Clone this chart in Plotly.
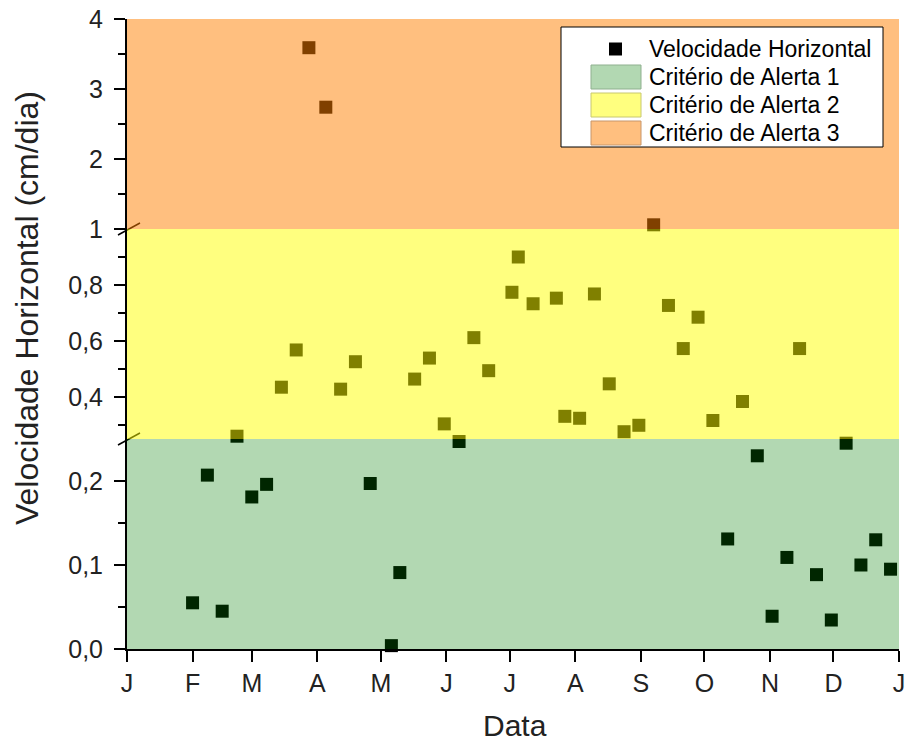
import plotly.graph_objects as go

# ---------------- data ----------------
dates = [
    "2013-02-01", "2013-02-08", "2013-02-15", "2013-02-22", "2013-03-01", "2013-03-08",
    "2013-03-15", "2013-03-22", "2013-03-28", "2013-04-05", "2013-04-12", "2013-04-19",
    "2013-04-26", "2013-05-06", "2013-05-10", "2013-05-17", "2013-05-24", "2013-05-31",
    "2013-06-07", "2013-06-14", "2013-06-21", "2013-07-02", "2013-07-05", "2013-07-12",
    "2013-07-23", "2013-07-27", "2013-08-03", "2013-08-10", "2013-08-17", "2013-08-24",
    "2013-08-31", "2013-09-07", "2013-09-14", "2013-09-21", "2013-09-28", "2013-10-05",
    "2013-10-12", "2013-10-19", "2013-10-26", "2013-11-02", "2013-11-09", "2013-11-15",
    "2013-11-23", "2013-11-30", "2013-12-07", "2013-12-14", "2013-12-21", "2013-12-28",
]
velocity = [
    0.055, 0.207, 0.045, 0.26, 0.181, 0.196,
    0.435, 0.568, 3.59, 2.74, 0.428, 0.526,
    0.197, 0.004, 0.091, 0.464, 0.539, 0.304,
    0.247, 0.612, 0.494, 0.774, 0.90, 0.733,
    0.753, 0.331, 0.324, 0.768, 0.447, 0.276,
    0.299, 1.06, 0.727, 0.573, 0.685, 0.316,
    0.131, 0.384, 0.230, 0.039, 0.109, 0.573,
    0.0885, 0.0345, 0.245, 0.100, 0.130, 0.095,
]

month_ticks = ["2013-01-01", "2013-02-01", "2013-03-01", "2013-04-01", "2013-05-01",
               "2013-06-01", "2013-07-01", "2013-08-01", "2013-09-01", "2013-10-01",
               "2013-11-01", "2013-12-01", "2014-01-01"]
month_labels = ["J", "F", "M", "A", "M", "J", "J", "A", "S", "O", "N", "D", "J"]

# broken y-axis segments (bottom, middle, top)
seg_ranges = [[0, 0.25], [0.25, 1], [1, 4]]
seg_ticks = [[0, 0.1, 0.2], [0.4, 0.6, 0.8], [1, 2, 3, 4]]
seg_minor = [[0.05, 0.15], [0.3, 0.5, 0.7, 0.9], [1.5, 2.5, 3.5]]
seg_formats = [".1f", ".1f", "d"]

legend_labels = ["Velocidade Horizontal", "Critério de Alerta 1",
                 "Critério de Alerta 2", "Critério de Alerta 3"]
band_colors = ["rgba(0,127,0,0.3)", "rgba(255,255,0,0.5)", "rgba(255,127,0,0.5)"]
swatch_fill = ["#B2D8B2", "#FFFF7F", "#FFBF7F"]
swatch_line = ["#8FB08F", "#C8C870", "#C8966A"]

FONT = "Liberation Sans, Arial, sans-serif"

fig = go.Figure()
axis_names = ["y", "y2", "y3"]
for i, (lo, hi) in enumerate(seg_ranges):
    xs, ys = [], []
    for d, v in zip(dates, velocity):
        if (v >= lo and v < hi) or (i == 2 and v >= lo):
            xs.append(d)
            ys.append(v)
    fig.add_trace(go.Scatter(
        x=xs, y=ys, mode="markers", yaxis=axis_names[i], xaxis="x",
        marker=dict(symbol="square", size=13, color="black", line=dict(width=0)),
        cliponaxis=False, showlegend=False, name=legend_labels[0],
    ))

W, H = 909, 745
ML, MR, MT, MB = 127, 10, 19, 96
PW, PH = W - ML - MR, H - MT - MB


def px(x):
    return (x - ML) / PW


def py(y):
    return (H - MB - y) / PH


shapes = []
# axis-break slashes
for yb in [2 / 3, 1 / 3]:
    shapes.append(dict(type="line", xref="paper", yref="paper", layer="above",
                       xsizemode="pixel", ysizemode="pixel", xanchor=0, yanchor=yb,
                       x0=-9, x1=13, y0=-6, y1=6,
                       line=dict(color="black", width=1.5)))
# coloured alert bands drawn above the markers (transparent overlay)
for i in range(3):
    shapes.append(dict(type="rect", xref="x domain", yref=f"{axis_names[i]} domain",
                       x0=0, x1=1, y0=0, y1=1, layer="above",
                       fillcolor=band_colors[i], line=dict(width=0)))

# legend (manual, to match the wide swatches)
shapes.append(dict(type="rect", xref="paper", yref="paper", layer="above",
                   x0=px(561), x1=px(883), y0=py(147), y1=py(27),
                   fillcolor="white", line=dict(color="black", width=1)))
row_y = [49, 77, 105, 133]
shapes.append(dict(type="rect", xref="paper", yref="paper", layer="above",
                   x0=px(609), x1=px(622), y0=py(row_y[0] + 6.5), y1=py(row_y[0] - 6.5),
                   fillcolor="black", line=dict(width=0)))
for i in range(3):
    yc = row_y[i + 1]
    shapes.append(dict(type="rect", xref="paper", yref="paper", layer="above",
                       x0=px(591), x1=px(641), y0=py(yc + 12), y1=py(yc - 12),
                       fillcolor=swatch_fill[i], line=dict(color=swatch_line[i], width=1)))

annotations = []
for i, lab in enumerate(legend_labels):
    annotations.append(dict(text=lab, xref="paper", yref="paper", x=px(647), y=py(row_y[i]),
                            xanchor="left", yanchor="middle", showarrow=False,
                            font=dict(family=FONT, size=23, color="black")))
annotations.append(dict(text="Velocidade Horizontal (cm/dia)", xref="paper", yref="paper",
                        x=px(27), y=py(308), textangle=-90, xanchor="center", yanchor="middle",
                        showarrow=False, font=dict(family=FONT, size=32, color="#222")))
annotations.append(dict(text="Data", xref="paper", yref="paper",
                        x=px(515), y=py(725), xanchor="center", yanchor="middle",
                        showarrow=False, font=dict(family=FONT, size=30, color="#222")))

layout = dict(
    width=W, height=H, margin=dict(l=ML, r=MR, t=MT, b=MB, pad=0, autoexpand=False),
    paper_bgcolor="white", plot_bgcolor="white", showlegend=False,
    separators=",.",
    font=dict(family=FONT, size=25, color="#222"),
    xaxis=dict(type="date", range=["2013-01-01", "2014-01-01"], domain=[0, 1], anchor="y",
               tickmode="array", tickvals=month_ticks, ticktext=month_labels,
               ticks="outside", ticklen=11, tickwidth=2, tickcolor="black",
               showline=True, linecolor="black", linewidth=2, showgrid=False, zeroline=False,
               tickfont=dict(family=FONT, size=25, color="#222"), ticklabelstandoff=0,
               automargin=False),
    shapes=shapes, annotations=annotations,
)
for i in range(3):
    key = "yaxis" if i == 0 else f"yaxis{i + 1}"
    layout[key] = dict(
        domain=[i / 3, (i + 1) / 3], range=seg_ranges[i], anchor="x",
        tickmode="array", tickvals=seg_ticks[i], tickformat=seg_formats[i],
        ticks="outside", ticklen=11, tickwidth=2, tickcolor="black",
        minor=dict(tickmode="array", tickvals=seg_minor[i], ticks="outside",
                   ticklen=7, tickwidth=2, tickcolor="black", showgrid=False),
        showline=True, linecolor="black", linewidth=2, showgrid=False, zeroline=False,
        tickfont=dict(family=FONT, size=25, color="#222"), ticklabelstandoff=6,
        automargin=False,
    )
fig.update_layout(**layout)
fig.write_html("out.html", config={"displayModeBar": False},
               post_script="document.body.style.margin='0';document.body.style.overflow='hidden';")
